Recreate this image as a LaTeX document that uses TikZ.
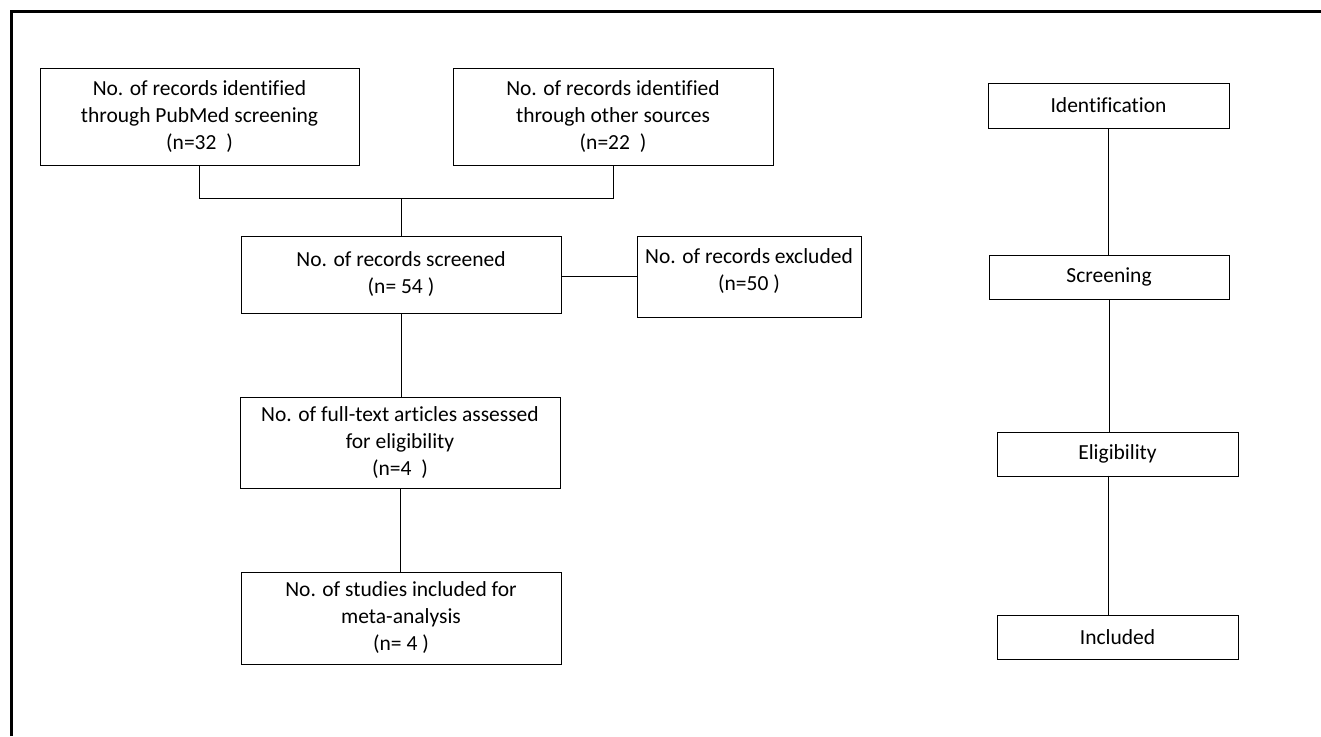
\documentclass[tikz,border=0pt]{standalone}
\usepackage{fontspec}
\setmainfont{Carlito}[Ligatures=CommonOff]
\usetikzlibrary{positioning}
\tikzset{
  box/.style={draw,line width=1pt,align=center,inner sep=0pt,
    font=\fontsize{21.5}{27}\selectfont},
  stagebox/.style={box,minimum width=241,minimum height=45}
}

\begin{document}
\begin{tikzpicture}[x=1pt,y=-1pt,line width=1pt]
\useasboundingbox (0,0) rectangle (1321,736);

% frame, open at right and bottom
\draw[line width=3pt] (11,736) -- (11,11.5) -- (1321,11.5);

% left column
\node[box,minimum width=319,minimum height=97] (pubmed) at (199.5,116.5)
  {No. of records identified\\through PubMed screening\\(n=32\ \ )};
\node[box,minimum width=320,minimum height=97] (other) at (613,116.5)
  {No. of records identified\\through other sources\\(n=22\ \ )};
\node[box,minimum width=320,minimum height=77] (screened) at (401,274.5)
  {No. of records screened\\(n= 54 )};
\node[box,minimum width=224,minimum height=81] (excl) at (749,276.5)
  {\raisebox{5pt}[\height][\depth]{\begin{tabular}{@{}c@{}}No. of records excluded\\(n=50 )\end{tabular}}};
\node[box,minimum width=320,minimum height=91] (fulltext) at (400,442.5)
  {No. of full-text articles assessed\\for eligibility\\(n=4\ \ )};
\node[box,minimum width=320,minimum height=92] (studies) at (401,618)
  {No. of studies included for\\meta-analysis\\(n= 4 )};

\draw (pubmed.south) -- ++(0,33) coordinate (join)
  -- (join -| other.south) -- (other.south);
\draw (join -| screened.north) -- (screened.north);
\draw (screened.east |- excl.west) -- (excl.west);
\draw (screened.south) -- (screened.south |- fulltext.north);
\draw (fulltext.south) -- (fulltext.south |- studies.north);

% right column
\node[stagebox] (ident) at (1108.5,105.5) {Identification};
\node[stagebox,minimum width=240,minimum height=44] (screen) at (1109,277) {Screening};
\node[stagebox,minimum height=44] (elig) at (1117.5,454) {Eligibility};
\node[stagebox,minimum height=44] (incl) at (1117.5,637) {Included};

\draw (ident.south) -- (ident.south |- screen.north);
\draw (screen.south) -- (screen.south |- elig.north);
\draw (elig.north -| ident.south) ++(0,44) coordinate (eligout)
  -- (eligout |- incl.north);
\end{tikzpicture}
\end{document}
